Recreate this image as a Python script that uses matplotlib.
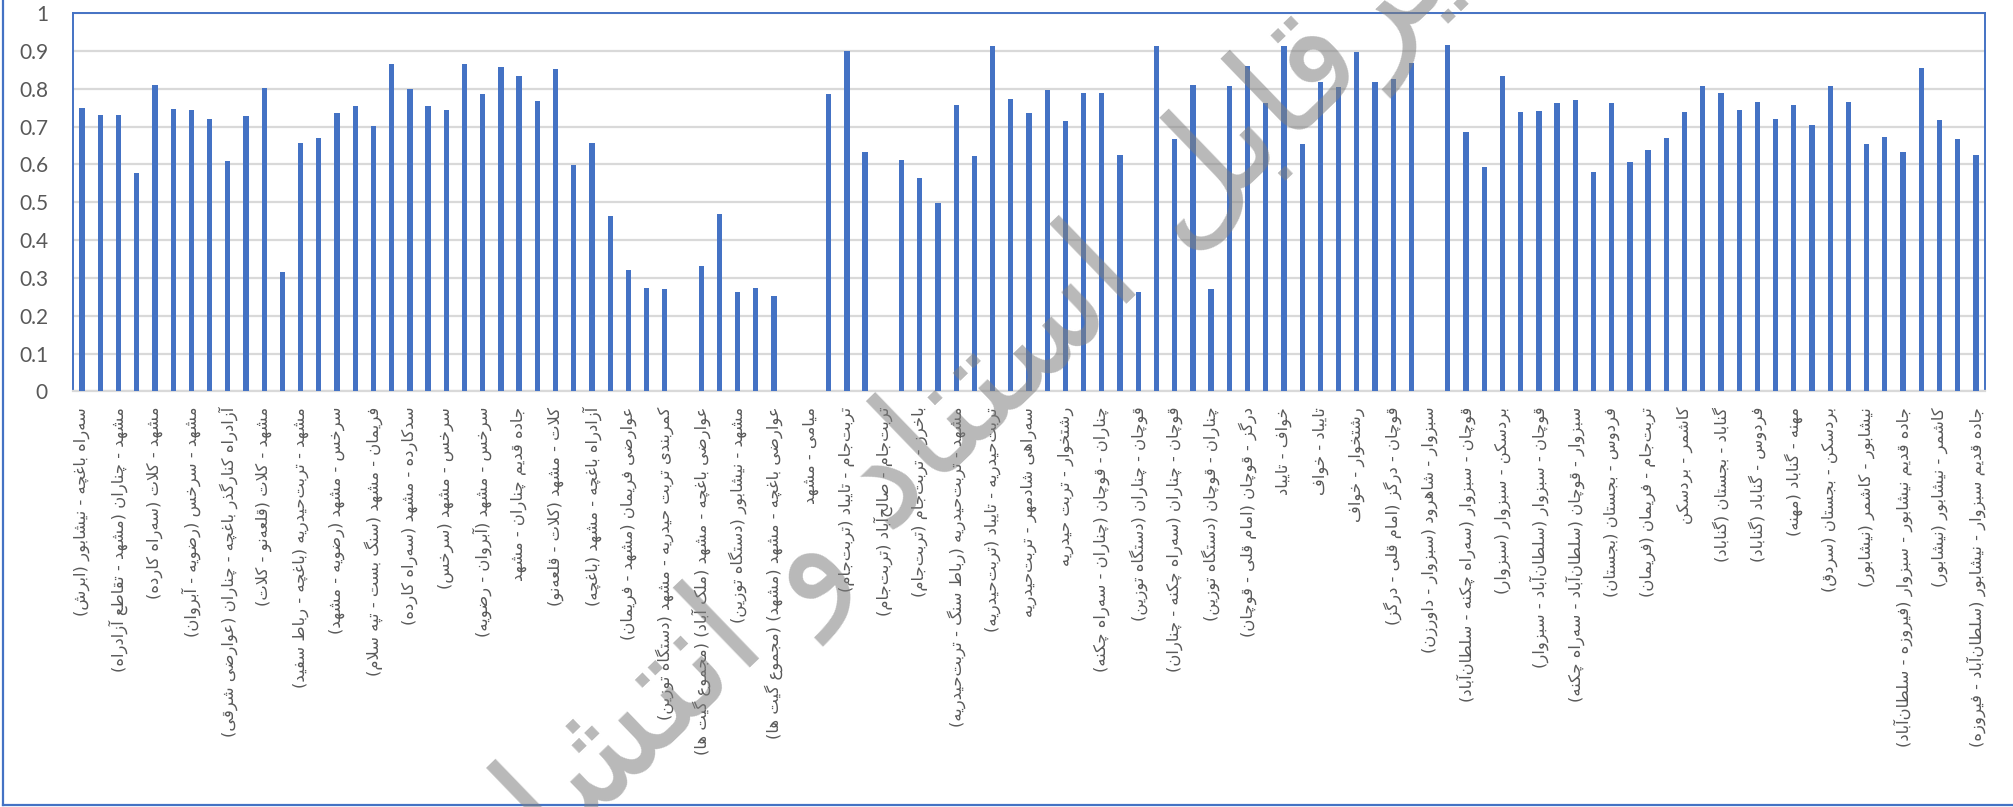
import numpy as np
import matplotlib
matplotlib.use('Agg')
import matplotlib.pyplot as plt
from matplotlib import font_manager
from matplotlib.ft2font import FT2Font
from matplotlib.lines import Line2D

nan = np.nan

# ratio per road segment, in chart order (blank = no data)
values = [
    0.749, 0.731, 0.730, 0.578, 0.811, 0.747, 0.744, 0.719, 0.608, 0.727,
    0.802, 0.317, 0.657, 0.671, 0.737, 0.755, 0.701, 0.865, 0.798, 0.755,
    0.744, 0.866, 0.785, 0.858, 0.833, 0.768, 0.852, 0.598, 0.656, 0.463,
    0.320, 0.274, 0.271, nan, 0.332, 0.470, 0.264, 0.274, 0.251, nan,
    nan, 0.785, 0.899, 0.633, nan, 0.611, 0.564, 0.499, 0.757, 0.621,
    0.914, 0.773, 0.735, 0.797, 0.714, 0.788, 0.788, 0.626, 0.262, 0.914,
    0.667, 0.811, 0.272, 0.807, 0.861, 0.761, 0.913, 0.654, 0.817, 0.804,
    0.897, 0.818, 0.825, 0.869, nan, 0.915, 0.685, 0.592, 0.834, 0.739,
    0.740, 0.762, 0.769, 0.581, 0.761, 0.607, 0.638, 0.669, 0.738, 0.808,
    0.789, 0.744, 0.765, 0.721, 0.757, 0.703, 0.807, 0.766, 0.654, 0.672,
    0.633, 0.854, 0.717, 0.668, 0.624,
]

# axis labels (every second segment carries a label)
labels = [
    'سه‌راه باغچه - نیشابور (ابرش)',
    'مشهد - چناران (مشهد - تقاطع آزادراه)',
    'مشهد - کلات (سه‌راه کارده)',
    'مشهد - سرخس (رضویه - آبروان)',
    'آزادراه کنارگذر باغچه - چناران (عوارضی شرقی)',
    'مشهد - کلات (قلعه‌نو - کلات)',
    'مشهد - تربت‌حیدریه (باغچه - رباط سفید)',
    'سرخس - مشهد (رضویه - مشهد)',
    'فریمان - مشهد (سنگ بست - تپه سلام)',
    'سدکارده - مشهد (سه‌راه کارده)',
    'سرخس - مشهد (سرخس)',
    'سرخس - مشهد (آبروان - رضویه)',
    'جاده قدیم چناران - مشهد',
    'کلات - مشهد (کلات - قلعه‌نو)',
    'آزادراه باغچه - مشهد (باغچه)',
    'عوارضی فریمان (مشهد - فریمان)',
    'کمربندی تربت حیدریه - مشهد (دستگاه توزین)',
    'عوارضی باغچه - مشهد (ملک آباد) (مجموع گیت ها)',
    'مشهد - نیشابور (دستگاه توزین)',
    'عوارضی باغچه - مشهد (مشهد) (مجموع گیت ها)',
    'میامی - مشهد',
    'تربت‌جام - تایباد (تربت‌جام)',
    'تربت‌جام - صالح‌آباد (تربت‌جام)',
    'باخرز - تربت‌جام (تربت‌جام)',
    'مشهد - تربت‌حیدریه (رباط سنگ - تربت‌حیدریه)',
    'تربت‌حیدریه - تایباد (تربت‌حیدریه)',
    'سه‌راهی شادمهر - تربت‌حیدریه',
    'رشتخوار - تربت حیدریه',
    'چناران - قوچان (چناران - سه‌راه چکنه)',
    'قوچان - چناران (دستگاه توزین)',
    'قوچان - چناران (سه‌راه چکنه - چناران)',
    'چناران - قوچان (دستگاه توزین)',
    'درگز - قوچان (امام قلی - قوچان)',
    'خواف - تایباد',
    'تایباد - خواف',
    'رشتخوار - خواف',
    'قوچان - درگز (امام قلی - درگز)',
    'سبزوار - شاهرود (سبزوار - داورزن)',
    'قوچان - سبزوار (سه‌راه چکنه - سلطان‌آباد)',
    'بردسکن - سبزوار (سبزوار)',
    'قوچان - سبزوار (سلطان‌آباد - سبزوار)',
    'سبزوار - قوچان (سلطان‌آباد - سه‌راه چکنه)',
    'فردوس - بجستان (بجستان)',
    'تربت‌جام - فریمان (فریمان)',
    'کاشمر - بردسکن',
    'گناباد - بجستان (گناباد)',
    'فردوس - گناباد (گناباد)',
    'مهنه - گناباد (مهنه)',
    'بردسکن - بجستان (سردق)',
    'نیشابور - کاشمر (نیشابور)',
    'جاده قدیم نیشابور - سبزوار (فیروزه - سلطان‌آباد)',
    'کاشمر - نیشابور (نیشابور)',
    'جاده قدیم سبزوار - نیشابور (سلطان‌آباد - فیروزه)',
]

yticks = [0, 0.1, 0.2, 0.3, 0.4, 0.5, 0.6, 0.7, 0.8, 0.9, 1]
ytick_labels = ['0', '0.1', '0.2', '0.3', '0.4', '0.5', '0.6', '0.7', '0.8', '0.9', '1']

watermark = 'غیرقابل استناد و انتشار'

# --- Persian letter joining: matplotlib lays glyphs out one by one, so pick
# the presentation forms here and put the string in visual (RTL) order.
# forms: isolated, final, initial, medial
FORMS = {
    'ا': (0xFE8D, 0xFE8E, None, None), 'آ': (0xFE81, 0xFE82, None, None),
    'ب': (0xFE8F, 0xFE90, 0xFE91, 0xFE92), 'پ': (0xFB56, 0xFB57, 0xFB58, 0xFB59),
    'ت': (0xFE95, 0xFE96, 0xFE97, 0xFE98), 'ث': (0xFE99, 0xFE9A, 0xFE9B, 0xFE9C),
    'ج': (0xFE9D, 0xFE9E, 0xFE9F, 0xFEA0), 'چ': (0xFB7A, 0xFB7B, 0xFB7C, 0xFB7D),
    'ح': (0xFEA1, 0xFEA2, 0xFEA3, 0xFEA4), 'خ': (0xFEA5, 0xFEA6, 0xFEA7, 0xFEA8),
    'د': (0xFEA9, 0xFEAA, None, None), 'ذ': (0xFEAB, 0xFEAC, None, None),
    'ر': (0xFEAD, 0xFEAE, None, None), 'ز': (0xFEAF, 0xFEB0, None, None),
    'ژ': (0xFB8A, 0xFB8B, None, None),
    'س': (0xFEB1, 0xFEB2, 0xFEB3, 0xFEB4), 'ش': (0xFEB5, 0xFEB6, 0xFEB7, 0xFEB8),
    'ص': (0xFEB9, 0xFEBA, 0xFEBB, 0xFEBC), 'ض': (0xFEBD, 0xFEBE, 0xFEBF, 0xFEC0),
    'ط': (0xFEC1, 0xFEC2, 0xFEC3, 0xFEC4), 'ظ': (0xFEC5, 0xFEC6, 0xFEC7, 0xFEC8),
    'ع': (0xFEC9, 0xFECA, 0xFECB, 0xFECC), 'غ': (0xFECD, 0xFECE, 0xFECF, 0xFED0),
    'ف': (0xFED1, 0xFED2, 0xFED3, 0xFED4), 'ق': (0xFED5, 0xFED6, 0xFED7, 0xFED8),
    'ک': (0xFB8E, 0xFB8F, 0xFB90, 0xFB91), 'گ': (0xFB92, 0xFB93, 0xFB94, 0xFB95),
    'ل': (0xFEDD, 0xFEDE, 0xFEDF, 0xFEE0), 'م': (0xFEE1, 0xFEE2, 0xFEE3, 0xFEE4),
    'ن': (0xFEE5, 0xFEE6, 0xFEE7, 0xFEE8), 'ه': (0xFEE9, 0xFEEA, 0xFEEB, 0xFEEC),
    'و': (0xFEED, 0xFEEE, None, None), 'ی': (0xFBFC, 0xFBFD, 0xFBFE, 0xFBFF),
}
LAM_ALEF = {'ا': (0xFEFB, 0xFEFC), 'آ': (0xFEF5, 0xFEF6)}

font_path = font_manager.findfont('DejaVu Sans')
charmap = FT2Font(font_path).get_charmap()


def glyph(code, fallback):
    return chr(code) if code in charmap else fallback


def shape(text):
    out = []
    n = len(text)
    i = 0
    while i < n:
        c = text[i]
        if c not in FORMS:
            if c != '\u200c':
                out.append(c)
            i += 1
            continue
        prev = i > 0 and text[i - 1] in FORMS and FORMS[text[i - 1]][2] is not None
        if c == 'ل' and i + 1 < n and text[i + 1] in LAM_ALEF:
            iso, fin = LAM_ALEF[text[i + 1]]
            out.append(glyph(fin if prev else iso, 'ل' + text[i + 1]))
            i += 2
            continue
        iso, fin, ini, med = FORMS[c]
        nxt = ini is not None and i + 1 < n and text[i + 1] in FORMS
        if prev and nxt:
            code = med
        elif prev:
            code = fin
        elif nxt:
            code = ini
        else:
            code = iso
        out.append(glyph(code, c))
        i += 1
    visual = ''.join(out)[::-1]
    return visual.translate(str.maketrans('()', ')('))


blue = '#4472C4'
grid_grey = '#D9D9D9'
text_grey = '#595959'

fig = plt.figure(figsize=(20.13, 8.07), dpi=100)
ax = fig.add_axes([73 / 2013, 1 - 391.5 / 807, 1912 / 2013, 378.5 / 807])

x = np.arange(len(values))
ax.bar(x, values, width=0.29, color=blue, zorder=3)

ax.set_xlim(-0.5, len(values) - 0.5)
ax.set_ylim(0, 1)
ax.set_yticks(yticks)
ax.set_yticklabels(ytick_labels, fontsize=15, color=text_grey, family='Lato')
ax.yaxis.grid(True, color=grid_grey, linewidth=1.6, zorder=0)

ax.set_xticks(x[::2])
ax.set_xticklabels([shape(s) for s in labels], rotation=90, fontsize=11.8,
                   color=text_grey, family='DejaVu Sans')
ax.tick_params(axis='x', length=0, pad=11)
ax.tick_params(axis='y', length=0, pad=18)

for side in ('left', 'top', 'right'):
    ax.spines[side].set_color(blue)
    ax.spines[side].set_linewidth(1.4)
ax.spines['bottom'].set_color(grid_grey)
ax.spines['bottom'].set_linewidth(1.6)

# chart-area border (left and bottom edges)
fig.add_artist(Line2D([0.0015, 0.0015], [0.003, 1], transform=fig.transFigure,
                      color=blue, linewidth=1.6))
fig.add_artist(Line2D([0.0015, 1], [0.003, 0.003], transform=fig.transFigure,
                      color=blue, linewidth=1.6))

fig.text(985 / 2013, 1 - 395 / 807, shape(watermark), family='DejaVu Sans',
         fontsize=105, color='#7f7f7f', alpha=0.55, rotation=44,
         ha='center', va='center', rotation_mode='anchor', zorder=10)

fig.savefig('out.png', dpi=100)
